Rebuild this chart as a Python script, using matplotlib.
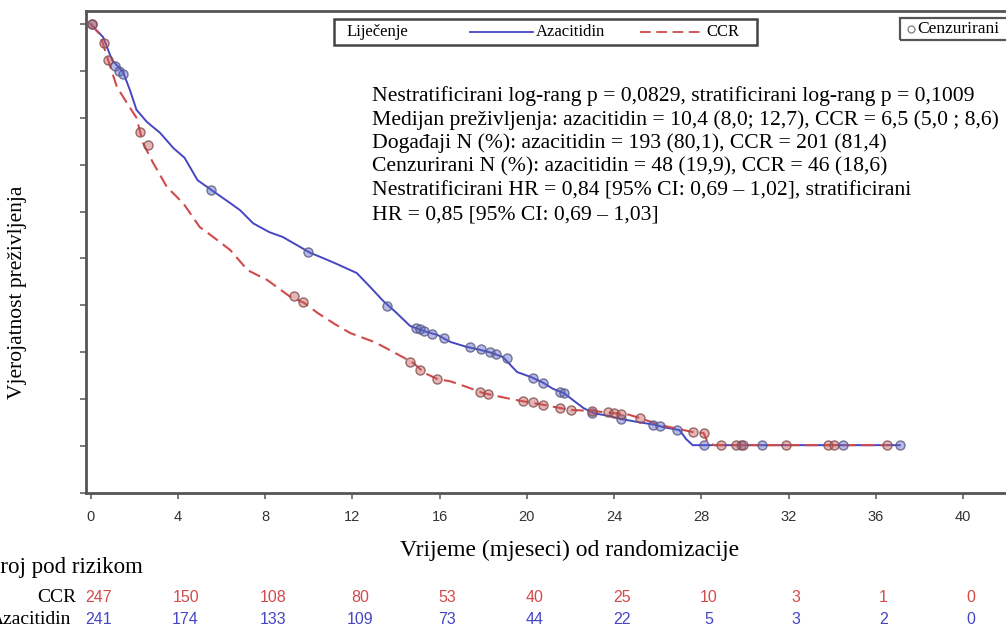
import matplotlib
matplotlib.use("Agg")
import matplotlib.pyplot as plt
from matplotlib import font_manager
from matplotlib.lines import Line2D
from matplotlib.patches import Rectangle

# --- podaci očitani sa slike ---
aza_t = [0.0, 0.3, 0.57, 0.98, 1.48, 1.8, 2.1, 2.58, 3.18, 3.8, 4.3, 4.9, 5.6, 6.4,
         6.85, 7.45, 8.2, 8.8, 9.4, 10.07, 10.7, 11.3, 12.2, 12.8, 13.4, 14.0, 14.65,
         15.3, 15.9, 16.5, 17.2, 17.7, 18.3, 18.9, 19.55, 20.2, 20.75, 21.2, 21.7,
         22.2, 22.6, 23.05, 23.7, 24.3, 25.0, 25.8, 26.3, 27.0, 27.3, 27.6, 37.1]
aza_s = [1.0, 0.985, 0.972, 0.923, 0.898, 0.859, 0.817, 0.791, 0.768, 0.735, 0.715,
         0.667, 0.644, 0.618, 0.603, 0.575, 0.556, 0.546, 0.530, 0.512, 0.500, 0.488,
         0.469, 0.440, 0.410, 0.385, 0.356, 0.345, 0.337, 0.322, 0.312, 0.307, 0.300,
         0.290, 0.258, 0.247, 0.235, 0.222, 0.213, 0.195, 0.181, 0.170, 0.165, 0.158,
         0.152, 0.146, 0.140, 0.134, 0.115, 0.102, 0.102]

ccr_t = [0.0, 0.43, 0.8, 1.2, 1.67, 2.1, 2.4, 2.86, 3.5, 4.24, 5.0, 5.5, 6.4, 7.2,
         8.1, 9.1, 9.8, 10.4, 11.2, 11.9, 13.0, 13.5, 14.3, 14.8, 15.3, 15.9, 16.5,
         17.25, 18.0, 19.0, 19.55, 20.75, 22.0, 23.0, 24.0, 24.6, 25.3, 26.1, 26.8,
         27.6, 28.1, 28.3, 28.6, 36.5]
ccr_s = [1.0, 0.977, 0.923, 0.866, 0.831, 0.800, 0.746, 0.704, 0.652, 0.618, 0.567,
         0.550, 0.518, 0.475, 0.454, 0.420, 0.405, 0.384, 0.360, 0.341, 0.322, 0.310,
         0.290, 0.277, 0.256, 0.243, 0.238, 0.226, 0.213, 0.203, 0.198, 0.188, 0.177,
         0.175, 0.170, 0.168, 0.158, 0.145, 0.138, 0.130, 0.128, 0.107, 0.102, 0.102]

# cenzurirani
aza_cens_t = [0.05, 1.1, 1.3, 1.5, 5.5, 9.95, 13.6, 14.9, 15.1, 15.3, 15.65, 16.2,
              17.4, 17.9, 18.3, 18.6, 19.1, 20.3, 20.75, 21.5, 21.7, 23.0, 24.3, 25.8,
              26.1, 26.9, 28.1, 29.8, 30.8, 34.5, 37.1]
aza_cens_s = [1.0, 0.91, 0.90, 0.893, 0.645, 0.513, 0.398, 0.352, 0.350, 0.346, 0.340,
              0.330, 0.311, 0.306, 0.300, 0.297, 0.288, 0.246, 0.235, 0.215, 0.213,
              0.170, 0.158, 0.146, 0.143, 0.135, 0.102, 0.102, 0.102, 0.102, 0.102]
ccr_cens_t = [0.05, 0.6, 0.8, 2.26, 2.63, 9.3, 9.75, 14.65, 15.1, 15.9, 17.85, 18.2,
              19.8, 20.3, 20.75, 21.5, 22.0, 23.0, 23.7, 24.0, 24.3, 25.2, 27.6, 28.1,
              28.9, 29.6, 29.9, 31.9, 33.8, 34.1, 36.5]
ccr_cens_s = [1.0, 0.96, 0.923, 0.77, 0.742, 0.42, 0.407, 0.28, 0.262, 0.243, 0.215,
              0.212, 0.197, 0.193, 0.188, 0.181, 0.177, 0.175, 0.172, 0.170, 0.169,
              0.160, 0.130, 0.128, 0.102, 0.102, 0.102, 0.102, 0.102, 0.102, 0.102]

# broj pod rizikom
risk_t = [0, 4, 8, 12, 16, 20, 24, 28, 32, 36, 40]
risk_ccr = [247, 150, 108, 80, 53, 40, 25, 10, 3, 1, 0]
risk_aza = [241, 174, 133, 109, 73, 44, 22, 5, 3, 2, 0]

stat_lines = [
    "Nestratificirani log-rang p = 0,0829, stratificirani log-rang p = 0,1009",
    "Medijan preživljenja: azacitidin = 10,4 (8,0; 12,7), CCR = 6,5 (5,0 ; 8,6)",
    "Događaji N (%): azacitidin = 193 (80,1), CCR = 201 (81,4)",
    "Cenzurirani N (%): azacitidin = 48 (19,9), CCR = 46 (18,6)",
    "Nestratificirani HR = 0,84 [95% CI: 0,69 – 1,02], stratificirani",
    "HR = 0,85 [95% CI: 0,69 – 1,03]",
]

BLUE = "#4646c4"
RED = "#d24b4b"
SERIF = "Liberation Serif"
names = {f.name for f in font_manager.fontManager.ttflist}
NARROW = "Liberation Sans Narrow" if "Liberation Sans Narrow" in names else "Liberation Sans"

W, H = 1006, 632


def fx(px):
    return px / W


def fy(py):
    return 1 - py / H


fig = plt.figure(figsize=(W / 100, H / 100), dpi=100)
x0, x1 = -0.215, 43.0
px_per_month = 21.81
ax = fig.add_axes([fx(86), fy(493), (x1 - x0) * px_per_month / W, (493 - 11) / H])
ax.set_xlim(x0, x1)
ax.set_ylim(0, 1.0277)

ax.plot(aza_t, aza_s, color=BLUE, lw=1.4, zorder=3)
ax.plot(ccr_t, ccr_s, color=RED, lw=1.5, ls=(0, (6, 3)), zorder=3)
ax.plot(aza_cens_t, aza_cens_s, ls="none", marker="o", ms=6.5,
        mfc=(0.35, 0.4, 0.78, 0.45), mec=(0.35, 0.35, 0.5, 0.8), mew=1, zorder=4)
ax.plot(ccr_cens_t, ccr_cens_s, ls="none", marker="o", ms=6.5,
        mfc=(0.78, 0.35, 0.35, 0.45), mec=(0.5, 0.3, 0.3, 0.8), mew=1, zorder=4)

ax.set_xticks(risk_t)
ax.set_xticklabels([str(t) for t in risk_t], fontfamily=NARROW, fontsize=10.5, color="#333333")
ax.set_yticks([i / 10 for i in range(11)])
ax.set_yticklabels([])
ax.tick_params(axis="both", direction="out", length=4.5, width=1.1, color="#555555")
ax.tick_params(axis="x", pad=8)
for sp in ax.spines.values():
    sp.set_color("#555555")
    sp.set_linewidth(2)

# tekst sa statistikom
for i, line in enumerate(stat_lines):
    fig.text(fx(372), fy(101 + i * 23.6), line, fontfamily=SERIF, fontsize=15.6,
             va="baseline", ha="left")

# legenda liječenja
fig.add_artist(Rectangle((fx(334), fy(45)), fx(757) - fx(334), fy(19) - fy(45),
                         transform=fig.transFigure, fill=False, ec="#444444", lw=1.8))
fig.text(fx(347), fy(32), "Liječenje", fontfamily=SERIF, fontsize=12, va="center")
fig.add_artist(Line2D([fx(470), fx(533)], [fy(32), fy(32)], transform=fig.transFigure,
                      color=BLUE, lw=1.3))
fig.text(fx(536), fy(32), "Azacitidin", fontfamily=SERIF, fontsize=12, va="center")
fig.add_artist(Line2D([fx(640), fx(702)], [fy(32), fy(32)], transform=fig.transFigure,
                      color=RED, lw=1.3, ls=(0, (6, 3))))
fig.text(fx(706), fy(32), "CCR", fontfamily=SERIF, fontsize=12, va="center")

# legenda cenzuriranih
fig.add_artist(Rectangle((fx(900), fy(40)), fx(1015) - fx(900), fy(18) - fy(40),
                         transform=fig.transFigure, fill=False, ec="#555555", lw=1.6))
fig.add_artist(Line2D([fx(911)], [fy(29)], transform=fig.transFigure, ls="none",
                      marker="o", ms=5, mfc="none", mec="#888888", mew=1))
fig.text(fx(917), fy(29), "Cenzurirani", fontfamily=SERIF, fontsize=12.5, va="center")

# oznake osi
fig.text(fx(570), fy(550), "Vrijeme (mjeseci) od randomizacije", fontfamily=SERIF,
         fontsize=17, ha="center", va="center")
fig.text(fx(18), fy(292), "Vjerojatnost preživljenja", fontfamily=SERIF, fontsize=15.5,
         rotation=90, ha="center", va="center")

# broj pod rizikom (u originalu odrezano na lijevom rubu)
fig.text(fx(-15), fy(567), "Broj pod rizikom", fontfamily=SERIF, fontsize=16.5,
         ha="left", va="center")
fig.text(fx(76), fy(598), "CCR", fontfamily=SERIF, fontsize=14, ha="right", va="center")
fig.text(fx(71), fy(620), "Azacitidin", fontfamily=SERIF, fontsize=14, ha="right",
         va="center")
for t, n_c, n_a in zip(risk_t, risk_ccr, risk_aza):
    xf = fx(90.7 + (t + 0.35) * px_per_month)
    fig.text(xf, fy(598), str(n_c), fontfamily=NARROW, fontsize=11.5, color=RED,
             ha="center", va="center")
    fig.text(xf, fy(620), str(n_a), fontfamily=NARROW, fontsize=11.5, color=BLUE,
             ha="center", va="center")

fig.savefig("out.png", dpi=100)
